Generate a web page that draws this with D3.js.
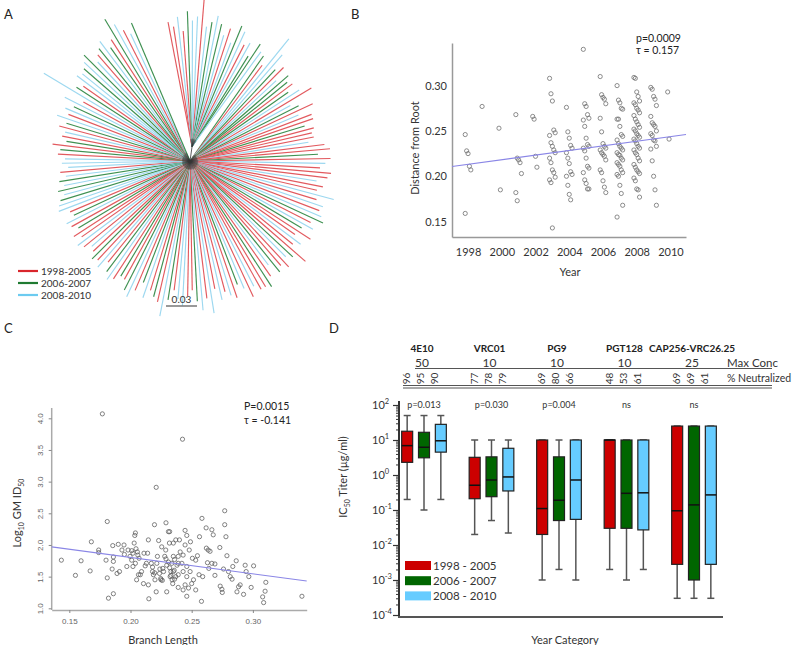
<!DOCTYPE html>
<html>
<head>
<meta charset="utf-8">
<script src="https://d3js.org/d3.v7.min.js"></script>
<style>
body { margin: 0; background: #fff; }
svg { display: block; font-family: Lato, "Open Sans", sans-serif; }
</style>
</head>
<body>
<script>
//
// Data
//
var yearGroups = ["1998-2005", "2006-2007", "2008-2010"];

// Panel A: star tree, one code per tip (R = 1998-2005, G = 2006-2007, B = 2008-2010), clockwise
var treeGroup = "RRBRGBBRBG" + "BGBRBGBRBG" + "GBGRBBGRBG" + "GRGBRBGRBR" + "RGRRRBRRGR" +
                "BRRRBRRBRB" + "RBGRBGRRBR" + "RGBRRGBRGR" + "RBRBGRBRBR" + "BRBGRRBBRG" +
                "BRGRBGRBGR" + "GRBGRBRGRB" + "RBRRGRBGRB" + "BGBGBGBRBB" + "BRGRGRBRGB" +
                "RBGBRBGRBB" + "GBGBRGBGRG" + "BRBG";
var treeLength = [
    0.136,0.131,0.140,0.126,0.145,0.136,0.140,0.157,0.131,0.136,
    0.143,0.136,0.126,0.134,0.121,0.140,0.136,0.124,0.128,0.116,
    0.132,0.126,0.124,0.116,0.152,0.136,0.121,0.128,0.114,0.126,
    0.121,0.124,0.116,0.126,0.137,0.111,0.118,0.131,0.114,0.126,
    0.126,0.116,0.124,0.121,0.122,0.116,0.131,0.136,0.124,0.136,
    0.131,0.126,0.137,0.134,0.124,0.131,0.126,0.144,0.128,0.136,
    0.134,0.138,0.142,0.131,0.136,0.126,0.139,0.124,0.134,0.128,
    0.148,0.136,0.131,0.140,0.134,0.138,0.126,0.136,0.145,0.142,
    0.142,0.136,0.145,0.134,0.128,0.140,0.136,0.131,0.138,0.126,
    0.149,0.134,0.145,0.136,0.125,0.131,0.140,0.134,0.126,0.136,
    0.153,0.140,0.136,0.131,0.140,0.126,0.136,0.145,0.140,0.131,
    0.130,0.136,0.140,0.134,0.126,0.136,0.131,0.134,0.128,0.126,
    0.132,0.136,0.128,0.134,0.126,0.131,0.134,0.124,0.126,0.136,
    0.134,0.131,0.126,0.131,0.124,0.128,0.121,0.126,0.118,0.124,
    0.121,0.128,0.126,0.134,0.121,0.126,0.124,0.131,0.125,0.136,
    0.126,0.131,0.124,0.136,0.118,0.165,0.131,0.126,0.137,0.134,
    0.136,0.140,0.145,0.131,0.136,0.140,0.145,0.134,0.140,0.160,
    0.151,0.142,0.136,0.145
];
// tips that hang from the upper-right internal node (first n tips clockwise)
var cladeTips = 22;
var cladeNode = [0.002, -0.014];

// Panel B: distance from root by sampling year
var yearsB = [1998, 1999, 2000, 2001, 2002, 2003, 2004, 2005, 2006, 2007, 2008, 2009, 2010];
var distByYear = [
    [0.246, 0.228, 0.225, 0.211, 0.207, 0.159],
    [0.277],
    [0.253, 0.185],
    [0.268, 0.220, 0.218, 0.215, 0.203, 0.182, 0.173],
    [0.266, 0.263, 0.222, 0.210],
    [0.308, 0.291, 0.283, 0.251, 0.248, 0.245, 0.237, 0.233, 0.229, 0.226, 0.220, 0.215, 0.207, 0.204, 0.199, 0.196, 0.193, 0.143],
    [0.276, 0.249, 0.242, 0.234, 0.231, 0.226, 0.220, 0.214, 0.205, 0.202, 0.200, 0.190, 0.180, 0.174],
    [0.340, 0.280, 0.277, 0.268, 0.264, 0.262, 0.255, 0.242, 0.235, 0.233, 0.231, 0.228, 0.220, 0.211, 0.209, 0.204, 0.196, 0.192, 0.186, 0.186],
    [0.310, 0.290, 0.287, 0.285, 0.280, 0.264, 0.249, 0.236, 0.233, 0.231, 0.229, 0.226, 0.224, 0.222, 0.218, 0.207, 0.204, 0.195, 0.188, 0.182],
    [0.300, 0.284, 0.281, 0.275, 0.274, 0.263, 0.263, 0.255, 0.246, 0.244, 0.240, 0.236, 0.233, 0.231, 0.229, 0.226, 0.224, 0.223, 0.220, 0.218, 0.215, 0.213, 0.211, 0.207, 0.204, 0.202, 0.200, 0.190, 0.181, 0.168, 0.155],
    [0.309, 0.308, 0.293, 0.288, 0.283, 0.281, 0.279, 0.275, 0.273, 0.270, 0.267, 0.263, 0.260, 0.257, 0.254, 0.252, 0.250, 0.247, 0.245, 0.243, 0.241, 0.239, 0.236, 0.233, 0.231, 0.229, 0.226, 0.224, 0.220, 0.217, 0.213, 0.210, 0.207, 0.205, 0.203, 0.198, 0.195, 0.186, 0.185, 0.177],
    [0.298, 0.296, 0.288, 0.285, 0.278, 0.266, 0.259, 0.257, 0.255, 0.250, 0.247, 0.245, 0.240, 0.239, 0.233, 0.230, 0.217, 0.200, 0.185, 0.168],
    [0.293, 0.241]
];
var regB = [[1997.05, 0.2107], [2010.92, 0.2460]];

// Panel C: [branch length, log10 GM ID50]
var branchTiter = [
    [0.1435,1.76],[0.155,1.52],[0.1596,1.75],[0.167,1.59],[0.168,2.05],[0.174,1.92],[0.174,1.88],
    [0.180,1.76],[0.181,1.48],[0.181,2.37],[0.177,4.07],[0.182,1.16],[0.185,1.62],[0.1855,1.99],
    [0.186,1.81],[0.186,1.74],[0.186,1.23],[0.189,1.55],[0.190,2.01],[0.191,1.58],[0.193,1.92],
    [0.1947,2.00],[0.195,1.85],[0.197,1.66],[0.198,1.92],[0.1996,1.82],[0.201,1.91],[0.201,1.76],
    [0.202,1.66],[0.202,1.87],[0.203,2.03],[0.2035,2.15],[0.204,2.19],[0.204,1.71],[0.205,1.45],
    [0.2045,1.94],[0.206,1.84],[0.2056,1.89],[0.2065,1.53],[0.207,1.79],[0.208,1.53],[0.209,1.58],
    [0.2106,1.39],[0.211,1.87],[0.212,1.67],[0.213,1.71],[0.214,1.87],[0.2146,2.08],[0.2146,1.37],
    [0.215,1.15],[0.217,1.71],[0.218,1.58],[0.2187,1.53],[0.2196,2.32],[0.2197,1.56],[0.220,1.45],
    [0.221,2.91],[0.2215,1.71],[0.221,1.26],[0.222,1.82],[0.223,2.07],[0.2237,1.55],[0.2247,1.47],
    [0.2255,1.97],[0.2264,1.63],[0.227,1.58],[0.228,1.82],[0.229,2.35],[0.2296,1.26],[0.2288,1.92],
    [0.2296,1.68],[0.231,2.21],[0.2318,2.03],[0.2324,1.50],[0.233,1.58],[0.234,1.45],[0.2345,1.39],
    [0.235,1.82],[0.2357,1.60],[0.237,2.08],[0.239,1.71],
    [0.2425,3.67],[0.232,2.21],[0.235,2.03],[0.240,2.08],[0.2446,2.23],[0.246,2.15],[0.2446,2.00],
    [0.249,2.05],[0.2406,1.89],[0.248,1.92],[0.239,1.82],[0.243,1.84],[0.2506,1.79],[0.2547,1.83],
    [0.2533,1.76],[0.2338,1.71],[0.238,1.68],[0.242,1.71],[0.246,1.66],[0.2487,1.58],[0.235,1.58],
    [0.237,1.50],[0.239,1.53],[0.243,1.58],[0.246,1.50],[0.2515,1.45],[0.250,1.39],[0.2446,1.37],
    [0.2474,1.32],[0.243,1.29],[0.239,1.33],[0.246,1.19],[0.2533,1.29],[0.258,1.11],[0.256,1.53],
    [0.259,1.50],[0.262,1.95],[0.2635,1.92],[0.265,1.90],[0.2676,2.16],[0.2665,2.24],[0.2618,2.27],
    [0.2584,2.42],[0.2564,2.13],[0.2629,1.72],[0.2665,1.71],[0.269,1.70],[0.264,1.63],[0.269,1.52],
    [0.273,1.96],[0.277,2.54],[0.277,2.32],[0.278,2.13],[0.2788,1.83],[0.276,1.62],[0.2733,1.35],
    [0.2747,1.30],[0.275,1.25],[0.2801,1.58],[0.2815,1.50],[0.283,1.46],[0.2836,1.66],[0.2864,1.75],
    [0.2883,1.34],[0.2896,1.37],[0.287,1.26],[0.2924,1.22],[0.2937,1.68],[0.2945,1.58],[0.2967,1.50],
    [0.2986,1.33],[0.3006,1.67],[0.3106,1.41],[0.310,1.27],[0.308,1.18],[0.3088,1.09],[0.3401,1.19],
    [0.225,1.45],[0.226,1.44],[0.231,1.73],[0.233,1.52],[0.236,1.77],[0.236,1.46],[0.224,1.62],
    [0.229,1.78],[0.218,1.65],[0.232,1.64]
];
var regC = [[0.1356, 1.97], [0.344, 1.43]];

// Panel D: IC50 box stats [min, q1, median, q3, max] per antibody, per year group
var antibodies = ["4E10", "VRC01", "PG9", "PGT128", "CAP256-VRC26.25"];
var maxConc = [50, 10, 10, 10, 25];
var pctNeutralized = [[96, 95, 90], [77, 78, 79], [69, 80, 66], [48, 53, 61], [69, 69, 61]];
var pLabels = ["p=0.013", "p=0.030", "p=0.004", "ns", "ns"];
var boxStats = [
    [[0.2, 2.3, 6.9, 17.8, 50], [0.1, 3.1, 6.2, 16.6, 50], [0.2, 4.5, 9.5, 28, 50]],
    [[0.02, 0.21, 0.51, 3.2, 10], [0.05, 0.24, 0.72, 3.3, 10], [0.022, 0.35, 0.88, 5.8, 10]],
    [[0.001, 0.02, 0.11, 10, 10], [0.002, 0.05, 0.19, 3.3, 10], [0.001, 0.054, 0.72, 10, 10]],
    [[0.002, 0.03, 10, 10, 10], [0.001, 0.03, 0.3, 10, 10], [0.002, 0.027, 0.31, 10, 10]],
    [[0.0003, 0.0028, 0.095, 25, 25], [0.0003, 0.001, 0.14, 25, 25], [0.0003, 0.0028, 0.27, 25, 25]]
];
var yearGroupsD = ["1998 - 2005", "2006 - 2007", "2008 - 2010"];

// Colours
var treeColors = ["#e25a5f", "#3f9152", "#9dd8f0"];
var legendColorsA = ["#d9262c", "#1f7a31", "#6ccbf0"];
var boxColors = ["#cc0000", "#006600", "#66ccff"];
var regColor = "#8a86e6";

var svg = d3.select("body").append("svg")
    .attr("width", 792)
    .attr("height", 645);

// Panel letters
var letters = [["A", 4, 19], ["B", 351, 19], ["C", 4, 333], ["D", 329, 333]];
svg.selectAll(".letter").data(letters).enter().append("text")
    .attr("class", "letter")
    .attr("x", function(d) { return d[1]; })
    .attr("y", function(d) { return d[2]; })
    .style("font-size", "13px")
    .style("fill", "#222")
    .text(function(d) { return d[0]; });

//
// Panel A: star tree
//
var codeIndex = {R: 0, G: 1, B: 2};
var nTips = Math.min(treeGroup.length, treeLength.length);
var angleA = d3.scaleLinear().domain([0, nTips - 1]).range([-99, 247]);
var lenA = d3.scaleLinear().domain([0, 0.03]).range([0, 31]);
var nodeX = lenA(cladeNode[0]), nodeY = lenA(cladeNode[1]);

var branches = [];
for (var i = 0; i < nTips; i++) {
    var a = angleA(i) * Math.PI / 180;
    branches.push({
        g: codeIndex[treeGroup[i]],
        x0: i < cladeTips ? nodeX : 0,
        y0: i < cladeTips ? nodeY : 0,
        x1: lenA(treeLength[i]) * Math.cos(a),
        y1: lenA(treeLength[i]) * Math.sin(a)
    });
}

var treeG = svg.append("g").attr("transform", "translate(190,161)");
treeG.selectAll(".branch").data(branches).enter().append("line")
    .attr("class", "branch")
    .attr("x1", function(d) { return d.x0; })
    .attr("y1", function(d) { return d.y0; })
    .attr("x2", function(d) { return d.x1; })
    .attr("y2", function(d) { return d.y1; })
    .attr("stroke", function(d) { return treeColors[d.g]; })
    .attr("stroke-width", 1.15);
// short dark segments where branches meet
treeG.selectAll(".hub").data(branches).enter().append("line")
    .attr("class", "hub")
    .attr("x1", function(d) { return d.x0; })
    .attr("y1", function(d) { return d.y0; })
    .attr("x2", function(d) { return d.x0 + (d.x1 - d.x0) * 0.06; })
    .attr("y2", function(d) { return d.y0 + (d.y1 - d.y0) * 0.06; })
    .attr("stroke", "#333")
    .attr("stroke-opacity", 0.35)
    .attr("stroke-width", 0.6);
treeG.append("line")
    .attr("x1", 0).attr("y1", 0).attr("x2", nodeX).attr("y2", nodeY)
    .attr("stroke", "#333").attr("stroke-width", 0.8);

// legend
var legA = svg.append("g").attr("transform", "translate(18,271)");
legA.selectAll("line").data(yearGroups).enter().append("line")
    .attr("x1", 0).attr("x2", 20)
    .attr("y1", function(d, i) { return i * 12; })
    .attr("y2", function(d, i) { return i * 12; })
    .attr("stroke", function(d, i) { return legendColorsA[i]; })
    .attr("stroke-width", 2.2);
legA.selectAll("text").data(yearGroups).enter().append("text")
    .attr("x", 23)
    .attr("y", function(d, i) { return i * 12 + 3.5; })
    .style("font-size", "10px")
    .style("fill", "#333")
    .text(function(d) { return d; });

// scale bar
svg.append("line")
    .attr("x1", 166).attr("x2", 166 + lenA(0.03))
    .attr("y1", 306).attr("y2", 306)
    .attr("stroke", "#555").attr("stroke-width", 1.2);
svg.append("text")
    .attr("x", 166 + lenA(0.03) / 2).attr("y", 303)
    .attr("text-anchor", "middle")
    .style("font-size", "10px").style("fill", "#333")
    .text("0.03");

//
// Panel B: distance from root vs year
//
var xB = d3.scaleLinear().domain([1997.05, 2010.92]).range([452, 686]);
var yB = d3.scaleLinear().domain([0.133, 0.347]).range([237, 43]);

var ptsB = [];
yearsB.forEach(function(yr, k) {
    distByYear[k].forEach(function(v, i) { ptsB.push({year: yr, dist: v, j: (i % 5) - 2}); });
});

var axB = svg.append("g").attr("transform", "translate(452,0)")
    .call(d3.axisLeft(yB).tickValues([0.15, 0.20, 0.25, 0.30]).tickFormat(d3.format(".2f")).tickSize(0).tickPadding(5));
var axBx = svg.append("g").attr("transform", "translate(0,237)")
    .call(d3.axisBottom(xB).tickValues([1998, 2000, 2002, 2004, 2006, 2008, 2010]).tickFormat(d3.format("d")).tickSize(0).tickPadding(11));
[axB, axBx].forEach(function(a) {
    a.select(".domain").attr("stroke", "#999").attr("stroke-width", 1.5);
    a.selectAll("text").style("font-size", "11px").style("fill", "#333").style("font-family", "Lato, sans-serif");
});

svg.append("g").selectAll("circle").data(ptsB).enter().append("circle")
    .attr("cx", function(d) { return xB(d.year) + d.j * 1.4; })
    .attr("cy", function(d) { return yB(d.dist); })
    .attr("r", 2.1)
    .attr("fill", "none")
    .attr("stroke", "#707070")
    .attr("stroke-width", 0.8);

svg.append("line")
    .attr("x1", xB(regB[0][0])).attr("y1", yB(regB[0][1]))
    .attr("x2", xB(regB[1][0])).attr("y2", yB(regB[1][1]))
    .attr("stroke", regColor).attr("stroke-width", 1.1);

svg.append("text").attr("x", 570).attr("y", 276).attr("text-anchor", "middle")
    .style("font-size", "11px").style("fill", "#333").text("Year");
svg.append("text").attr("transform", "translate(419,148) rotate(-90)").attr("text-anchor", "middle")
    .style("font-size", "11px").style("fill", "#333").text("Distance from Root");
svg.append("text").attr("x", 636).attr("y", 42)
    .style("font-size", "10.5px").style("fill", "#222").text("p=0.0009");
svg.append("text").attr("x", 636).attr("y", 54)
    .style("font-size", "10.5px").style("fill", "#222").text("τ = 0.157");

//
// Panel C: log10 GM ID50 vs branch length
//
var xC = d3.scaleLinear().domain([0.1356, 0.344]).range([51.7, 306.7]);
var yC = d3.scaleLinear().domain([1.0, 4.0]).range([608.3, 418.3]);

var axC = svg.append("g").attr("transform", "translate(51.7,0)")
    .call(d3.axisLeft(yC).tickValues([1, 1.5, 2, 2.5, 3, 3.5, 4]).tickFormat(d3.format(".1f")).tickSizeInner(3).tickSizeOuter(0));
axC.select(".domain").attr("d", "M0," + 408 + "V" + 610);
axC.selectAll("text")
    .attr("x", 0).attr("dy", 0)
    .attr("text-anchor", "middle")
    .attr("transform", "translate(-9,0) rotate(-90)");
var axCx = svg.append("g").attr("transform", "translate(0,610)")
    .call(d3.axisBottom(xC).tickValues([0.15, 0.20, 0.25, 0.30]).tickFormat(d3.format(".2f")).tickSizeInner(3).tickSizeOuter(0).tickPadding(5));
[axC, axCx].forEach(function(a) {
    a.select(".domain").attr("stroke", "#aaa").attr("stroke-width", 1.5);
    a.selectAll(".tick line").attr("stroke", "#888");
    a.selectAll("text").style("font-size", "8px").style("fill", "#666").style("font-family", "'Liberation Sans', Arial, sans-serif");
});

svg.append("g").selectAll("circle").data(branchTiter).enter().append("circle")
    .attr("cx", function(d) { return xC(d[0]); })
    .attr("cy", function(d) { return yC(d[1]); })
    .attr("r", 2.1)
    .attr("fill", "none")
    .attr("stroke", "#5a5a5a")
    .attr("stroke-width", 0.75);

svg.append("line")
    .attr("x1", xC(regC[0][0])).attr("y1", yC(regC[0][1]))
    .attr("x2", xC(regC[1][0])).attr("y2", yC(regC[1][1]))
    .attr("stroke", regColor).attr("stroke-width", 1.1);

svg.append("text").attr("x", 163).attr("y", 644).attr("text-anchor", "middle")
    .style("font-size", "11px").style("fill", "#333").text("Branch Length");
var ylabC = svg.append("text").attr("transform", "translate(21,513) rotate(-90)").attr("text-anchor", "middle")
    .style("font-size", "11px").style("fill", "#333");
ylabC.append("tspan").text("Log");
ylabC.append("tspan").attr("dy", 3).style("font-size", "7px").text("10");
ylabC.append("tspan").attr("dy", -3).text(" GM ID");
ylabC.append("tspan").attr("dy", 3).style("font-size", "7px").text("50");
svg.append("text").attr("x", 244).attr("y", 410)
    .style("font-size", "10.5px").style("fill", "#222").text("P=0.0015");
svg.append("text").attr("x", 244).attr("y", 424)
    .style("font-size", "10.5px").style("fill", "#222").text("τ = -0.141");

//
// Panel D: IC50 box plots
//
var yD = d3.scaleLog().domain([1e-4, 1e2]).range([615, 405]);
var xD = d3.scaleBand().domain(antibodies).range([390.25, 727.75]).padding(0);
var xSub = d3.scaleBand().domain([0, 1, 2]).range([8.5, 59]).padding(0);
var boxW = 11;

// axes
var majors = [1e-4, 1e-3, 1e-2, 1e-1, 1, 10, 100];
var minors = [];
majors.slice(0, 6).forEach(function(m) {
    for (var k = 2; k < 10; k++) minors.push(m * k);
});
svg.append("g").attr("transform", "translate(399,0)")
    .call(d3.axisLeft(yD).tickValues(minors).tickFormat("").tickSizeInner(3).tickSizeOuter(0))
    .call(function(g) { g.select(".domain").remove(); g.selectAll("line").attr("stroke", "#333"); });
svg.append("g").attr("transform", "translate(399,0)")
    .call(d3.axisLeft(yD).tickValues(majors).tickFormat("").tickSizeInner(6).tickSizeOuter(0))
    .call(function(g) { g.select(".domain").remove(); g.selectAll("line").attr("stroke", "#333").attr("stroke-width", 1.2); });
svg.append("line").attr("x1", 399).attr("x2", 399).attr("y1", 401).attr("y2", 617)
    .attr("stroke", "#333").attr("stroke-width", 2);
svg.append("line").attr("x1", 398).attr("x2", 723).attr("y1", 617).attr("y2", 617)
    .attr("stroke", "#555").attr("stroke-width", 2);

var tickLab = svg.append("g").selectAll("text").data(majors).enter().append("text")
    .attr("x", 372)
    .attr("y", function(d) { return yD(d) + 4; })
    .style("font-size", "11px").style("fill", "#333");
tickLab.append("tspan").text("10");
tickLab.append("tspan").attr("dy", -5).style("font-size", "7.5px")
    .text(function(d) { return String(Math.round(Math.log10(d))); });

var ylabD = svg.append("text").attr("transform", "translate(347,477) rotate(-90)").attr("text-anchor", "middle")
    .style("font-size", "11px").style("fill", "#333");
ylabD.append("tspan").text("IC");
ylabD.append("tspan").attr("dy", 3).style("font-size", "7px").text("50");
ylabD.append("tspan").attr("dy", -3).text(" Titer (µg/ml)");

svg.append("text").attr("x", 565).attr("y", 644).attr("text-anchor", "middle")
    .style("font-size", "11px").style("fill", "#333").text("Year Category");

// boxes
var boxes = [];
antibodies.forEach(function(ab, a) {
    boxStats[a].forEach(function(s, g) {
        boxes.push({ab: ab, g: g, s: s, cx: xD(ab) + xSub(g) + xSub.bandwidth() / 2});
    });
});
var boxG = svg.append("g").selectAll("g").data(boxes).enter().append("g");
boxG.append("line")
    .attr("x1", function(d) { return d.cx; }).attr("x2", function(d) { return d.cx; })
    .attr("y1", function(d) { return yD(d.s[0]); }).attr("y2", function(d) { return yD(d.s[4]); })
    .attr("stroke", "#555").attr("stroke-width", 1.5);
boxG.selectAll(".cap").data(function(d) { return [[d.cx, d.s[0]], [d.cx, d.s[4]]]; }).enter().append("line")
    .attr("x1", function(d) { return d[0] - 3.5; }).attr("x2", function(d) { return d[0] + 3.5; })
    .attr("y1", function(d) { return yD(d[1]); }).attr("y2", function(d) { return yD(d[1]); })
    .attr("stroke", "#555").attr("stroke-width", 1.5);
boxG.append("rect")
    .attr("x", function(d) { return d.cx - boxW / 2; })
    .attr("width", boxW)
    .attr("y", function(d) { return yD(d.s[3]); })
    .attr("height", function(d) { return yD(d.s[1]) - yD(d.s[3]); })
    .attr("fill", function(d) { return boxColors[d.g]; })
    .attr("stroke", "#222").attr("stroke-width", 1.2);
boxG.append("line")
    .attr("x1", function(d) { return d.cx - boxW / 2; }).attr("x2", function(d) { return d.cx + boxW / 2; })
    .attr("y1", function(d) { return yD(d.s[2]); }).attr("y2", function(d) { return yD(d.s[2]); })
    .attr("stroke", "#111").attr("stroke-width", 1.5);

// header table
var centerD = function(ab) { return xD(ab) + xD.bandwidth() / 2; };
svg.append("g").selectAll("text").data(antibodies).enter().append("text")
    .attr("x", function(d) { return centerD(d) - 2; }).attr("y", 352)
    .attr("text-anchor", "middle")
    .style("font-size", "10px").style("font-weight", "bold").style("fill", "#222")
    .text(function(d) { return d; });
svg.append("g").selectAll("text").data(maxConc).enter().append("text")
    .attr("x", function(d, i) { return centerD(antibodies[i]) - 2; }).attr("y", 367)
    .attr("text-anchor", "middle")
    .style("font-size", "12px").style("fill", "#333")
    .text(function(d) { return d; });
svg.append("text").attr("x", 727).attr("y", 367)
    .style("font-size", "11.5px").style("fill", "#333").text("Max Conc");
svg.append("line").attr("x1", 415).attr("x2", 772).attr("y1", 368.5).attr("y2", 368.5)
    .attr("stroke", "#555").attr("stroke-width", 1);

var pctCells = [];
antibodies.forEach(function(ab, a) {
    pctNeutralized[a].forEach(function(v, g) { pctCells.push({ab: ab, g: g, v: v}); });
});
svg.append("g").selectAll("text").data(pctCells).enter().append("text")
    .attr("transform", function(d) {
        var x = centerD(d.ab) + (d.g - 1) * 14;
        return "translate(" + x + ",378.5) rotate(-90)";
    })
    .attr("text-anchor", "middle")
    .style("font-size", "10px").style("fill", "#333")
    .text(function(d) { return d.v; });
svg.append("text").attr("x", 727).attr("y", 382)
    .style("font-size", "10.5px").style("fill", "#333").text("% Neutralized");
[385.5, 388].forEach(function(y) {
    svg.append("line").attr("x1", 403).attr("x2", 772).attr("y1", y).attr("y2", y)
        .attr("stroke", "#555").attr("stroke-width", 1);
});

svg.append("g").selectAll("text").data(pLabels).enter().append("text")
    .attr("x", function(d, i) { return centerD(antibodies[i]); }).attr("y", 408)
    .attr("text-anchor", "middle")
    .style("font-size", "9px").style("fill", "#333")
    .text(function(d) { return d; });

// legend D
var legD = svg.append("g").attr("transform", "translate(405,561)");
legD.selectAll("rect").data(yearGroupsD).enter().append("rect")
    .attr("x", 0).attr("y", function(d, i) { return i * 15.2; })
    .attr("width", 26).attr("height", 9)
    .attr("fill", function(d, i) { return boxColors[i]; });
legD.selectAll("text").data(yearGroupsD).enter().append("text")
    .attr("x", 28).attr("y", function(d, i) { return i * 15.2 + 8.5; })
    .style("font-size", "11.5px").style("fill", "#333")
    .text(function(d) { return d; });
</script>
</body>
</html>
